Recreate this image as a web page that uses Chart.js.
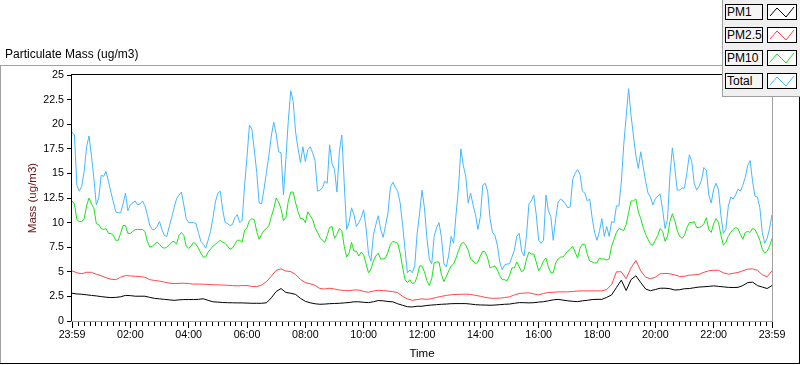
<!DOCTYPE html>
<html>
<head>
<meta charset="utf-8">
<script src="https://cdn.jsdelivr.net/npm/chart.js@4/dist/chart.umd.min.js"></script>
<style>
  body { margin: 0; background: #fff; font-family: "Liberation Sans", Arial, sans-serif; }
  #wrap { position: relative; width: 800px; height: 365px; overflow: hidden; }
  #title { position: absolute; left: 5px; top: 47px; font-size: 12px; color: #000; white-space: nowrap; }
  #legend { position: absolute; left: 722px; top: 0; width: 78px; height: 97px; box-sizing: border-box;
            background: #f0f0f0; border-left: 1px solid #a0a0a0; border-bottom: 1px solid #a0a0a0; }
  .item { position: absolute; left: 2px; height: 16px; width: 74px; }
  .name { position: absolute; left: 0; top: 0; width: 38px; height: 16px; box-sizing: border-box;
          border: 1px solid #000; background: #f5f5f5; font-size: 12px; line-height: 14px; padding-left: 1px; color: #000; }
  .icon { position: absolute; left: 42px; top: 0; width: 30px; height: 16px; box-sizing: border-box;
          border: 1px solid #000; background: #fff; }
</style>
</head>
<body>
<div id="wrap">
  <canvas id="pm" width="800" height="365"></canvas>
  <div id="title">Particulate Mass (ug/m3)</div>
  <div id="legend"></div>
</div>
<script>
const seriesNames = ['PM1', 'PM2.5', 'PM10', 'Total'];
const seriesColors = ['#000000', '#ff4646', '#14e614', '#44b8ff'];

// PM1 / PM2.5: one sample every 10 minutes from 23:59 to 23:59
const pm1 = [2.82, 2.75, 2.72, 2.66, 2.6, 2.55, 2.48, 2.42, 2.38, 2.4, 2.46, 2.6, 2.58, 2.52, 2.52, 2.52, 2.4, 2.3, 2.25, 2.2, 2.15, 2.1, 2.15, 2.18, 2.18, 2.18, 2.2, 2.26, 2.1, 1.95, 1.92, 1.88, 1.86, 1.85, 1.84, 1.84, 1.82,
  1.8, 1.8, 1.8, 1.85, 2.35, 3.0, 3.3, 2.9, 2.82, 2.7, 2.3, 2.0, 1.85, 1.75, 1.7, 1.72, 1.76, 1.78, 1.8, 1.84, 1.88, 1.95, 1.95, 1.9, 1.87, 1.95, 2.08, 2.05, 1.98, 1.95, 1.75, 1.6, 1.45, 1.43, 1.5, 1.5,
  1.58, 1.62, 1.66, 1.7, 1.72, 1.76, 1.77, 1.77, 1.77, 1.72, 1.66, 1.63, 1.62, 1.6, 1.62, 1.66, 1.7, 1.72, 1.8, 1.87, 1.86, 1.84, 1.86, 1.92, 1.96, 2.05, 2.15, 2.2, 2.12, 2.05, 2.0, 1.97, 2.05, 2.1, 2.18, 2.2,
  2.2, 2.4, 2.65, 3.4, 4.15, 3.1, 4.2, 4.6, 3.9, 3.25, 3.08, 3.2, 3.33, 3.33, 3.28, 3.15, 3.18, 3.28, 3.3, 3.38, 3.45, 3.48, 3.52, 3.57, 3.52, 3.47, 3.42, 3.4, 3.42, 3.6, 3.9, 3.95, 3.6, 3.45, 3.3, 3.6];

const pm25 = [5.1, 4.9, 4.8, 4.95, 4.95, 4.75, 4.6, 4.4, 4.25, 4.2, 4.45, 4.62, 4.58, 4.55, 4.5, 4.45, 4.2, 4.12, 4.05, 3.95, 3.85, 3.8, 3.83, 3.84, 3.8, 3.75, 3.75, 3.74, 3.72, 3.68, 3.67, 3.65, 3.63, 3.6, 3.57, 3.6, 3.6,
  3.52, 3.5, 3.65, 4.0, 4.55, 5.15, 5.3, 5.08, 5.03, 4.72, 4.22, 3.9, 3.78, 3.62, 3.3, 3.25, 3.33, 3.25, 3.15, 3.1, 3.08, 3.15, 3.15, 3.0, 2.92, 3.05, 3.12, 3.08, 3.05, 2.98, 2.88, 2.5, 2.25, 2.1, 2.18, 2.25,
  2.2, 2.28, 2.4, 2.5, 2.6, 2.66, 2.7, 2.72, 2.72, 2.7, 2.6, 2.52, 2.4, 2.32, 2.31, 2.32, 2.38, 2.46, 2.65, 2.8, 2.84, 2.86, 2.75, 2.65, 2.8, 2.9, 2.92, 2.96, 2.96, 2.96, 3.0, 3.05, 3.06, 3.06, 3.06, 3.06,
  3.06, 3.2, 3.7, 5.0, 5.0, 4.3, 5.4, 6.15, 5.1, 4.45, 4.3, 4.45, 4.8, 4.83, 4.8, 4.68, 4.52, 4.55, 4.65, 4.7, 4.74, 4.95, 5.1, 5.15, 5.15, 4.9, 4.76, 4.85, 4.93, 5.1, 5.27, 5.3, 5.15, 4.7, 4.5, 5.1];

// PM10 / Total: one sample every 5 minutes
const pm10 = [12.2, 11.9, 10.3, 10.1, 10.1, 10.4, 11.7, 12.5, 11.9, 11.5, 9.9, 9.8, 9.4, 9.3, 9.4, 8.9, 8.9, 8.7, 8.2, 8.2, 8.9, 9.7, 9.7, 8.9, 8.9, 9.1, 9.3, 9.3, 9.3, 9.3, 9.1, 8.1, 7.5, 7.6, 7.8, 8, 7.8,
  7.5, 7.4, 7.5, 7.7, 8, 8.1, 7.8, 8.7, 9, 8.7, 7.6, 7.4, 7.6, 8, 7.8, 7.4, 6.9, 6.5, 6.5, 7, 7.3, 7.6, 7.8, 8, 8.2, 8, 7.9, 7.6, 7.3, 7.4, 7.8, 8.2, 8.2, 8, 9.2, 9.5,
  10.2, 10.4, 10.3, 9.1, 8.3, 8.8, 9.2, 9.4, 9.7, 10.6, 11.4, 12.5, 12.1, 11.4, 10.2, 10.5, 12.2, 13.1, 13.1, 12, 11.1, 10.4, 10.4, 10, 11.1, 10.7, 10.3, 9.5, 9, 8.5, 8.2, 8, 8.7, 9.5, 9.6, 8.4, 8.8, 9.4,
  9.2, 7.6, 6.5, 6.9, 8, 7.1, 7.1, 6.6, 7, 6.7, 5.8, 4.9, 5.3, 6.1, 6.6, 6.9, 6.3, 6.3, 6.4, 7, 7.8, 8.1, 8, 7.9, 6.9, 5.5, 4.2, 3.9, 4.2, 3.8, 3.9, 4.5, 5.6, 5.6,
  5, 4.1, 3.6, 4.3, 5.9, 6, 6, 4.7, 4, 4.5, 5.1, 5.6, 5.8, 6.4, 7.1, 7.8, 8, 7.7, 7.2, 6.3, 6.1, 5.8, 6, 6.6, 7.1, 7, 6.4, 5.4, 5.5, 5.6, 5.2, 4.6, 4.2, 4.2, 4.1, 4.6,
  5.4, 5.4, 6, 5.5, 5, 5.2, 6.3, 7, 6.8, 6.8, 6, 5.1, 5.5, 6.1, 6.4, 5.5, 4.9, 4.9, 5.9, 6.3, 6.5, 6.5, 6.8, 7.1, 7.3, 7.6, 7, 6.4, 7.4, 7.8, 7.8, 6.8, 6.1, 6, 5.9, 5.9,
  6.4, 6.3, 6.3, 6.2, 6.3, 7.6, 8.3, 9, 9.4, 9.3, 9.2, 9.8, 11, 12.2, 12.2, 12.4, 11.1, 10.4, 9.5, 8.8, 8.3, 7.8, 7.7, 8.2, 8.7, 9.4, 9.1, 8.1, 8.6, 10.1, 10.9, 10.2, 9.2, 8.6, 8.4, 8.7,
  9.5, 10, 10, 10.1, 9.5, 9.5, 9.6, 9.9, 10.5, 9.3, 9, 9.9, 10.4, 10, 8.7, 7.7, 8, 8.6, 9, 9.3, 9.5, 9.4, 8.8, 8.3, 9, 9.1, 9, 9.4, 9.3, 8.8, 8.2, 7.3, 6.9, 7.1, 7.6, 8.4];

const total = [19.2, 18.9, 13.8, 13.2, 13.7, 15.2, 17.7, 18.8, 16.8, 14.5, 11.8, 12.5, 14.8, 14.7, 15.2, 14.2, 13.1, 12.1, 11.1, 11, 11, 11.9, 13, 11.2, 11.8, 12, 12.2, 11.8, 11.9, 12.2, 11.7, 10.8, 9.7, 9.3, 9.3, 9.6, 10.1,
  9.3, 8.7, 8.6, 9.6, 10.5, 11.5, 12.4, 12.8, 13.1, 11.8, 10.4, 10, 10, 10, 9.9, 9, 8.1, 7.8, 7.4, 8.2, 9.1, 10.5, 12.1, 13, 13.2, 11.3, 10, 9.9, 9.7, 9.8, 10.5, 10.8, 10, 10.2, 13.7, 16.7,
  19.9, 19.5, 17.4, 15.1, 12, 11.9, 13.4, 15.1, 16.8, 18.8, 20.2, 19, 17.2, 17.1, 12.8, 16.4, 20.4, 23.4, 22.3, 19.2, 17.5, 16.1, 17.7, 16.2, 17.4, 17.7, 17.1, 16.3, 13.2, 13.3, 13.5, 14.2, 14, 17.9, 16, 15.4, 13.1, 17.2,
  18.9, 14, 9.3, 10, 11.5, 10.8, 9.6, 10, 10.5, 11.3, 9.4, 6.8, 6.1, 8.7, 9.8, 10.7, 9.3, 8.5, 9.7, 11, 13.6, 14.1, 13.6, 13.2, 12, 9.8, 7.3, 4.9, 5.2, 4.9, 5.6, 8.9, 10.9, 13.3,
  11.5, 8.5, 6.3, 5.8, 8.6, 9.5, 10, 8.5, 5.8, 5.5, 6.7, 8.6, 7.9, 10.8, 13.5, 17.5, 15.8, 14.7, 12, 13, 11.8, 10.8, 9.3, 10.6, 13.8, 14, 13.2, 10.4, 9, 8.7, 7.7, 6, 5.2, 5.7, 5.8, 5.8,
  6.5, 7.2, 8.6, 8.9, 7.1, 6.6, 8.7, 11.9, 12.2, 12.8, 10.8, 8.2, 7.9, 8.2, 12.8, 11.2, 10.6, 8.2, 10.4, 12.1, 12.4, 12.2, 11.9, 11.5, 11.6, 14.4, 15, 15.4, 14.9, 13.2, 13, 12.2, 12.4, 10.5, 9, 8.2,
  9.1, 10.4, 8.6, 9.6, 8.6, 10.1, 10, 11.7, 11.7, 14.1, 17.9, 20.8, 23.6, 20.9, 18.8, 16.8, 15.5, 17.2, 15.7, 14.2, 13, 12.6, 11.8, 12.4, 12.7, 12.9, 11.3, 9.4, 10.3, 14.8, 17.6, 15.6, 13.3, 13.3, 13.5, 13.5,
  15.1, 16.9, 16.2, 14, 13.3, 13.7, 14.3, 15.6, 15.3, 12.8, 12, 13.4, 14, 13.3, 10.7, 8.9, 9.3, 11.6, 12.6, 12.4, 12.8, 13.4, 13.2, 13.8, 14.6, 15.8, 16.3, 14.2, 12.7, 12.6, 11.5, 9, 7.9, 8.4, 9.4, 10.8];

const minutes10 = [];
for (let i = 0; i < pm1.length; i++) minutes10.push(i * 10);
const minutes5 = [];
for (let i = 0; i < total.length; i++) minutes5.push(i * 5);

const FONT = '"Liberation Sans", Arial, sans-serif';

function timeLabel(v) {
    if (v === 0 || v === 1440) return '23:59';
    const h = Math.round(v / 60);
    return (h < 10 ? '0' : '') + h + ':00';
}

function toPoints(times, vals) {
    return vals.map((y, i) => ({ x: times[i], y: y }));
}

function hline(ctx, color, x1, x2, y) {
    ctx.strokeStyle = color;
    ctx.beginPath();
    ctx.moveTo(x1, y + 0.5);
    ctx.lineTo(x2, y + 0.5);
    ctx.stroke();
}

function vline(ctx, color, x, y1, y2) {
    ctx.strokeStyle = color;
    ctx.beginPath();
    ctx.moveTo(x + 0.5, y1);
    ctx.lineTo(x + 0.5, y2);
    ctx.stroke();
}

// LabVIEW style frames + minor time ticks
const framePlugin = {
    id: 'frame',
    afterDraw(chart) {
        const ctx = chart.ctx;
        const a = chart.chartArea;
        const xs = chart.scales.x;
        ctx.save();
        ctx.lineWidth = 1;
        // outer frame
        hline(ctx, '#a0a0a0', 0, 722, 65);
        vline(ctx, '#a0a0a0', 0, 65, 364);
        hline(ctx, '#000', 0, 800, 363);
        vline(ctx, '#000', 799, 96, 364);
        // plot frame
        hline(ctx, '#000', a.left - 1, a.right + 1, a.top - 1);
        vline(ctx, '#000', a.left - 1, a.top - 1, a.bottom + 1);
        hline(ctx, '#a0a0a0', a.left - 1, a.right + 1, a.bottom);
        vline(ctx, '#a0a0a0', a.right, a.top - 1, a.bottom + 1);
        // minor ticks
        for (let m = 12; m < 1440; m += 12) {
            if (m % 120 === 0) continue;
            const px = Math.round(xs.getPixelForValue(m));
            vline(ctx, '#000', px, a.bottom + 1, a.bottom + 5);
        }
        ctx.restore();
    }
};

const chart = new Chart(document.getElementById('pm'), {
    type: 'line',
    data: {
        datasets: [
            { label: seriesNames[0], data: toPoints(minutes10, pm1), borderColor: seriesColors[0], order: 3 },
            { label: seriesNames[1], data: toPoints(minutes10, pm25), borderColor: seriesColors[1], order: 2 },
            { label: seriesNames[2], data: toPoints(minutes5, pm10), borderColor: seriesColors[2], order: 1 },
            { label: seriesNames[3], data: toPoints(minutes5, total), borderColor: seriesColors[3], order: 0 }
        ]
    },
    options: {
        responsive: false,
        animation: false,
        layout: { padding: { left: 0, top: 75, right: 28, bottom: 0 } },
        plugins: {
            legend: { display: false },
            tooltip: { enabled: false }
        },
        elements: {
            point: { radius: 0 },
            line: { borderWidth: 1, tension: 0, fill: false }
        },
        scales: {
            x: {
                type: 'linear',
                min: 0,
                max: 1440,
                afterFit(s) { s.height = 44; s.paddingLeft = 0; s.paddingRight = 0; },
                ticks: {
                    stepSize: 120,
                    autoSkip: false,
                    maxRotation: 0,
                    padding: 1,
                    color: '#000',
                    font: { family: FONT, size: 10.7 },
                    callback: v => timeLabel(v)
                },
                grid: { drawOnChartArea: false, tickLength: 7, tickColor: '#000' },
                border: { display: false },
                title: {
                    display: true,
                    text: 'Time',
                    color: '#000',
                    font: { family: FONT, size: 11.5 },
                    padding: { top: 0, bottom: 4 }
                }
            },
            y: {
                min: 0,
                max: 25,
                afterFit(s) { s.width = 72; s.paddingTop = 0; s.paddingBottom = 0; },
                ticks: {
                    stepSize: 2.5,
                    padding: 3,
                    color: '#000',
                    font: { family: FONT, size: 10.7 }
                },
                grid: { drawOnChartArea: false, tickLength: 5, tickColor: '#000' },
                border: { display: false },
                title: {
                    display: true,
                    text: 'Mass (ug/m3)',
                    color: '#6e1414',
                    font: { family: FONT, size: 11.5 },
                    padding: { top: 26, bottom: 0 }
                }
            }
        }
    },
    plugins: [framePlugin]
});

// legend panel built from the datasets
const legend = document.getElementById('legend');
const rowTops = [4, 27, 50, 73];
chart.data.datasets.forEach((ds, i) => {
    const item = document.createElement('div');
    item.className = 'item';
    item.style.top = rowTops[i] + 'px';
    item.innerHTML = '<div class="name">' + ds.label + '</div>' +
        '<div class="icon"><svg width="28" height="14" viewBox="0 0 28 14">' +
        '<polyline points="2,11 9,3 18,12 26,2" fill="none" stroke="' + ds.borderColor + '" stroke-width="1"/></svg></div>';
    legend.appendChild(item);
});
</script>
</body>
</html>
